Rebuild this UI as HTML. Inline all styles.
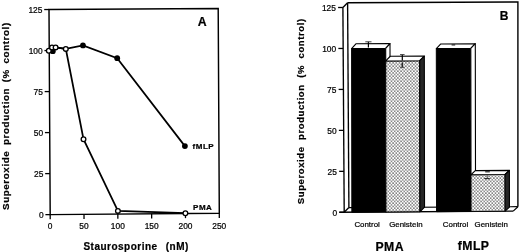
<!DOCTYPE html>
<html><head><meta charset="utf-8"><style>
html,body{margin:0;padding:0;background:#fff;overflow:hidden;width:520px;height:252px;}
svg{display:block;filter:grayscale(1);}
text{font-family:"Liberation Sans",sans-serif;fill:#000;stroke:#000;stroke-width:0.22px;}
.tk{font-size:8.4px;}
.pl{font-size:12.3px;font-weight:bold;}
.lb{font-size:8px;font-weight:bold;letter-spacing:0.5px;}
.yt{font-size:9.8px;font-weight:bold;letter-spacing:0.6px;word-spacing:2.3px;}
.yt2{font-size:9.5px;font-weight:bold;letter-spacing:0.6px;word-spacing:3.3px;}
.xt{font-size:10px;font-weight:bold;letter-spacing:0.5px;}
.bl{font-size:7.9px;}
.gl{font-size:12.2px;font-weight:bold;letter-spacing:0.5px;}
</style></head><body>
<svg width="520" height="252" viewBox="0 0 520 252">
<defs>
<pattern id="dots" width="3.2" height="3.34" patternUnits="userSpaceOnUse" x="0.3" y="0.2">
<rect width="3.2" height="3.34" fill="#fff"/>
<circle cx="0.8" cy="0.83" r="0.72" fill="#2a2a2a"/>
<circle cx="2.4" cy="2.5" r="0.72" fill="#2a2a2a"/>
</pattern>
</defs>
<polygon points="49,9.55 218.2,8.5 219.3,213.28 50.2,214.62" fill="none" stroke="#000" stroke-width="1.45"/>
<line x1="45.4" y1="214.62" x2="50.2" y2="214.62" stroke="#000" stroke-width="1.3"/>
<text x="43.6" y="217.72" class="tk" text-anchor="end">0</text>
<line x1="45.16" y1="173.61" x2="49.96" y2="173.61" stroke="#000" stroke-width="1.3"/>
<text x="43.36" y="176.71" class="tk" text-anchor="end">25</text>
<line x1="44.92" y1="132.59" x2="49.72" y2="132.59" stroke="#000" stroke-width="1.3"/>
<text x="43.12" y="135.69" class="tk" text-anchor="end">50</text>
<line x1="44.68" y1="91.58" x2="49.48" y2="91.58" stroke="#000" stroke-width="1.3"/>
<text x="42.88" y="94.67" class="tk" text-anchor="end">75</text>
<line x1="44.44" y1="50.56" x2="49.24" y2="50.56" stroke="#000" stroke-width="1.3"/>
<text x="42.64" y="53.66" class="tk" text-anchor="end">100</text>
<line x1="44.2" y1="9.54" x2="49" y2="9.54" stroke="#000" stroke-width="1.3"/>
<text x="42.4" y="12.64" class="tk" text-anchor="end">125</text>
<line x1="50.2" y1="214.62" x2="50.2" y2="219.22" stroke="#000" stroke-width="1.3"/>
<text x="50.2" y="228.5" class="tk" text-anchor="middle">0</text>
<line x1="84.02" y1="214.35" x2="84.02" y2="218.95" stroke="#000" stroke-width="1.3"/>
<text x="84.02" y="228.5" class="tk" text-anchor="middle">50</text>
<line x1="117.84" y1="214.08" x2="117.84" y2="218.68" stroke="#000" stroke-width="1.3"/>
<text x="117.84" y="228.5" class="tk" text-anchor="middle">100</text>
<line x1="151.66" y1="213.82" x2="151.66" y2="218.42" stroke="#000" stroke-width="1.3"/>
<text x="151.66" y="228.5" class="tk" text-anchor="middle">150</text>
<line x1="185.48" y1="213.55" x2="185.48" y2="218.15" stroke="#000" stroke-width="1.3"/>
<text x="185.48" y="228.5" class="tk" text-anchor="middle">200</text>
<line x1="219.3" y1="213.28" x2="219.3" y2="217.88" stroke="#000" stroke-width="1.3"/>
<text x="219.3" y="228.5" class="tk" text-anchor="middle">250</text>
<polyline points="48.8,50.8 52.8,51.2 55.6,47.4 65.8,48.9 82.95,45.4 117.2,58.2 184.9,146.1" fill="none" stroke="#000" stroke-width="1.75"/>
<circle cx="52.8" cy="51.2" r="2.9" fill="#000"/>
<circle cx="82.95" cy="45.4" r="2.9" fill="#000"/>
<circle cx="117.2" cy="58.2" r="2.9" fill="#000"/>
<circle cx="184.9" cy="146.1" r="2.9" fill="#000"/>
<polyline points="48.8,50.8 52,47.5 55.6,47.4 65.8,48.9 83.5,139.2 117.9,210.9 185.4,213.2" fill="none" stroke="#000" stroke-width="1.75"/>
<circle cx="48.8" cy="50.8" r="2.35" fill="#fff" stroke="#000" stroke-width="1.3"/>
<circle cx="52" cy="47.5" r="2.35" fill="#fff" stroke="#000" stroke-width="1.3"/>
<circle cx="55.6" cy="47.4" r="2.35" fill="#fff" stroke="#000" stroke-width="1.3"/>
<circle cx="65.8" cy="48.9" r="2.35" fill="#fff" stroke="#000" stroke-width="1.3"/>
<circle cx="83.5" cy="139.2" r="2.35" fill="#fff" stroke="#000" stroke-width="1.3"/>
<circle cx="117.9" cy="210.9" r="2.35" fill="#fff" stroke="#000" stroke-width="1.3"/>
<circle cx="185.4" cy="213.2" r="2.35" fill="#fff" stroke="#000" stroke-width="1.3"/>
<text x="197.7" y="25.8" class="pl">A</text>
<text x="192.6" y="148.7" class="lb">fMLP</text>
<text x="193.1" y="209.9" class="lb">PMA</text>
<text class="yt" transform="translate(9.4,210) rotate(-90)">Superoxide production (% control)</text>
<text x="83.4" y="249.6" class="xt">Staurosporine</text>
<text x="165.7" y="249.6" class="xt">(nM)</text>
<line x1="342.9" y1="7.5" x2="344.2" y2="212.3" stroke="#000" stroke-width="1.35"/>
<line x1="347.6" y1="2.8" x2="348.9" y2="207.6" stroke="#000" stroke-width="1.35"/>
<line x1="342.9" y1="7.5" x2="347.6" y2="2.8" stroke="#000" stroke-width="1.35"/>
<line x1="344.2" y1="212.3" x2="348.9" y2="207.6" stroke="#000" stroke-width="1.35"/>
<polyline points="347.6,2.8 517.9,1.95 517.9,206.7" fill="none" stroke="#000" stroke-width="1.4"/>
<line x1="348.9" y1="207.6" x2="517.9" y2="206.7" stroke="#000" stroke-width="1.2"/>
<line x1="339.2" y1="212.3" x2="513.2" y2="211.13" stroke="#000" stroke-width="1.4"/>
<line x1="513.2" y1="211.13" x2="517.9" y2="206.7" stroke="#000" stroke-width="1.2"/>
<line x1="339.4" y1="212.3" x2="344.2" y2="212.3" stroke="#000" stroke-width="1.3"/>
<text x="337.2" y="216" class="tk" text-anchor="end">0</text>
<line x1="339.14" y1="171.34" x2="343.94" y2="171.34" stroke="#000" stroke-width="1.3"/>
<text x="336.94" y="175.04" class="tk" text-anchor="end">25</text>
<line x1="338.88" y1="130.38" x2="343.68" y2="130.38" stroke="#000" stroke-width="1.3"/>
<text x="336.68" y="134.08" class="tk" text-anchor="end">50</text>
<line x1="338.62" y1="89.42" x2="343.42" y2="89.42" stroke="#000" stroke-width="1.3"/>
<text x="336.42" y="93.12" class="tk" text-anchor="end">75</text>
<line x1="338.36" y1="48.46" x2="343.16" y2="48.46" stroke="#000" stroke-width="1.3"/>
<text x="336.16" y="52.16" class="tk" text-anchor="end">100</text>
<line x1="338.1" y1="7.5" x2="342.9" y2="7.5" stroke="#000" stroke-width="1.3"/>
<text x="335.9" y="11.2" class="tk" text-anchor="end">125</text>
<polygon points="351.85,212.25 385.95,212.01 385.7,48.34 351.6,48.57" fill="#000" stroke="#000" stroke-width="1"/>
<polygon points="351.6,48.57 385.7,48.34 390,43.54 355.9,43.77" fill="#fff" stroke="#000" stroke-width="1.1" stroke-linejoin="round"/>
<polygon points="385.95,212.01 385.7,48.34 390,43.54 390.25,207.21" fill="#fff" stroke="#000" stroke-width="1.1" stroke-linejoin="round"/>
<polygon points="385.95,212.01 419.95,211.78 419.72,60.72 385.72,60.95" fill="url(#dots)" stroke="#000" stroke-width="1"/>
<polygon points="385.72,60.95 419.72,60.72 424.32,56.02 390.32,56.25" fill="#fff" stroke="#000" stroke-width="1.1" stroke-linejoin="round"/>
<polygon points="419.95,211.78 419.72,60.72 424.32,56.02 424.55,207.08" fill="#262626" stroke="#000" stroke-width="1.1" stroke-linejoin="round"/>
<polygon points="436.55,211.66 471.05,211.43 470.8,48.41 436.3,48.64" fill="#000" stroke="#000" stroke-width="1"/>
<polygon points="436.3,48.64 470.8,48.41 475.3,43.71 440.8,43.94" fill="#fff" stroke="#000" stroke-width="1.1" stroke-linejoin="round"/>
<polygon points="471.05,211.43 470.8,48.41 475.3,43.71 475.55,206.73" fill="#fff" stroke="#000" stroke-width="1.1" stroke-linejoin="round"/>
<polygon points="471.05,211.43 505.15,211.19 505.09,174.49 470.99,174.73" fill="url(#dots)" stroke="#000" stroke-width="1"/>
<polygon points="470.99,174.73 505.09,174.49 509.39,170.39 475.29,170.63" fill="#fff" stroke="#000" stroke-width="1.1" stroke-linejoin="round"/>
<polygon points="505.15,211.19 505.09,174.49 509.39,170.39 509.45,207.09" fill="#262626" stroke="#000" stroke-width="1.1" stroke-linejoin="round"/>
<line x1="368.4" y1="41.8" x2="368.4" y2="47.6" stroke="#000" stroke-width="1.2"/>
<line x1="365.3" y1="41.8" x2="371.5" y2="41.8" stroke="#444" stroke-width="1"/>
<line x1="402.3" y1="54.6" x2="402.3" y2="60.6" stroke="#000" stroke-width="1.2"/>
<line x1="400" y1="54.6" x2="404.6" y2="54.6" stroke="#444" stroke-width="1"/>
<line x1="402.2" y1="67.3" x2="402.2" y2="62.5" stroke="#000" stroke-width="1.2"/>
<line x1="399.9" y1="67.3" x2="404.5" y2="67.3" stroke="#444" stroke-width="1"/>
<line x1="451.6" y1="44.9" x2="455.2" y2="44.9" stroke="#222" stroke-width="1.2"/>
<line x1="485.2" y1="171.8" x2="489.8" y2="171.8" stroke="#222" stroke-width="1.2"/>
<line x1="484.4" y1="178.6" x2="489.8" y2="178.6" stroke="#222" stroke-width="1.1"/>
<line x1="487.3" y1="175.5" x2="487.3" y2="178.6" stroke="#444" stroke-width="0.8"/>
<text x="499.7" y="19.9" class="pl" style="font-size:12px">B</text>
<text x="354.4" y="226.5" class="bl">Control</text>
<text x="389.2" y="226.5" class="bl">Genistein</text>
<text x="442.8" y="226.5" class="bl">Control</text>
<text x="474.6" y="226.5" class="bl">Genistein</text>
<text x="375.4" y="250.6" class="gl">PMA</text>
<text x="457.7" y="250.2" class="gl">fMLP</text>
<text class="yt2" transform="translate(304.3,204.2) rotate(-90)">Superoxide production (% control)</text>
</svg>
</body></html>
